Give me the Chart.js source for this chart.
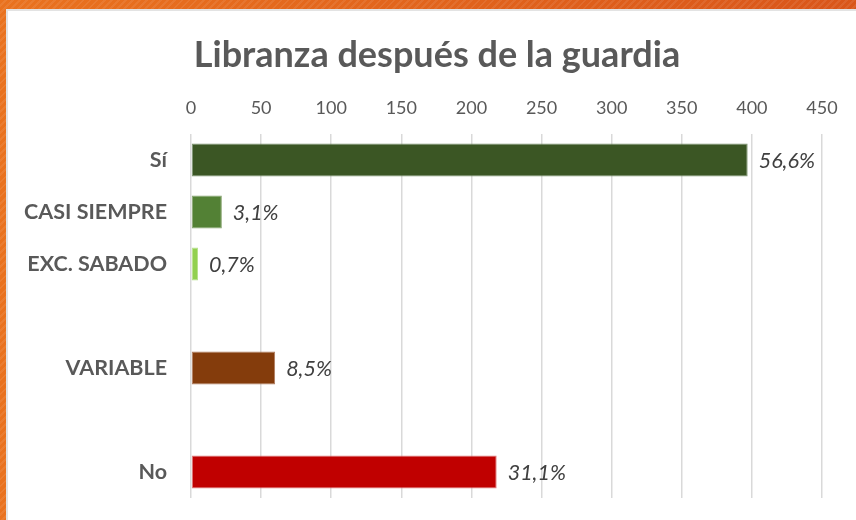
<!DOCTYPE html>
<html>
<head>
<meta charset="utf-8">
<script src="https://cdn.jsdelivr.net/npm/chart.js@4"></script>
<style>
  html, body { margin: 0; padding: 0; }
  body {
    width: 856px; height: 520px; overflow: hidden; position: relative;
    background:
      repeating-linear-gradient(135deg, rgba(255,255,255,0) 0px, rgba(255,255,255,0) 3px, rgba(255,255,255,0.08) 3px, rgba(255,255,255,0.08) 5px),
      linear-gradient(to right, #e9721f, #d9561a);
  }
  #panel {
    position: absolute; left: 8px; top: 11px; width: 860px; height: 520px;
    background: #ffffff; box-shadow: 0 0 0 2px #e3e3e3;
  }
  #wrap { position: absolute; left: 0; top: 0; width: 848px; height: 509px; }
</style>
</head>
<body>
<div id="panel"><div id="wrap"><canvas id="c" width="848" height="509"></canvas></div></div>
<script>
const chartTitle = 'Libranza después de la guardia';
const categories = ["Sí", "CASI SIEMPRE", "EXC. SABADO", "", "VARIABLE", "", "No"];
const counts = [397, 22, 5, null, 60, null, 218];
const percentLabels = ["56,6%", "3,1%", "0,7%", "", "8,5%", "", "31,1%"];
const barColors = ["#3b5624", "#538135", "#92d050", "#ffffff", "#843c0c", "#ffffff", "#c00000"];
const barBorders = ["#7d9470", "#86a36f", "#b8e28d", "#ffffff", "#b07c5f", "#ffffff", "#e07b7b"];
const tickValues = [0, 50, 100, 150, 200, 250, 300, 350, 400, 450];

const titlePlugin = {
  id: 'customTitle',
  afterDraw(chart) {
    const ctx = chart.ctx;
    ctx.save();
    ctx.font = 'bold 36px Lato';
    ctx.fillStyle = '#595959';
    ctx.textAlign = 'center';
    ctx.textBaseline = 'middle';
    ctx.fillText(chartTitle, 429, 44);
    ctx.restore();
  }
};

const dataLabelPlugin = {
  id: 'dataLabels',
  afterDatasetsDraw(chart) {
    const ctx = chart.ctx;
    const meta = chart.getDatasetMeta(0);
    ctx.save();
    ctx.font = 'italic 21.5px Lato';
    ctx.fillStyle = '#404040';
    ctx.textAlign = 'left';
    ctx.textBaseline = 'middle';
    meta.data.forEach((bar, i) => {
      if (counts[i] == null) return;
      ctx.fillText(percentLabels[i], bar.x + 11, bar.y + 1);
    });
    ctx.restore();
  }
};

new Chart(document.getElementById('c'), {
  type: 'bar',
  data: {
    labels: categories,
    datasets: [{
      data: counts,
      backgroundColor: barColors,
      borderColor: barBorders,
      borderWidth: 1,
      borderSkipped: false,
      categoryPercentage: 1,
      barPercentage: 0.63
    }]
  },
  options: {
    indexAxis: 'y',
    responsive: false,
    animation: false,
    layout: { padding: { top: 65, left: 0, right: 34, bottom: 22 } },
    plugins: {
      legend: { display: false },
      tooltip: { enabled: false },
      title: { display: false }
    },
    scales: {
      x: {
        position: 'top',
        min: 0, max: 450,
        afterBuildTicks(scale) { scale.ticks = tickValues.map(v => ({ value: v })); },
        afterFit(scale) { scale.height = 58; },
        grid: { color: '#d9d9d9', lineWidth: 1.5, drawTicks: false },
        border: { display: false },
        ticks: { color: '#595959', font: { family: 'Lato', size: 18 }, padding: 15 }
      },
      y: {
        afterFit(scale) { scale.width = 183; scale.paddingTop = 0; scale.paddingBottom = 0; },
        grid: { display: false, drawTicks: false },
        border: { display: false },
        ticks: { color: '#595959', font: { family: 'Lato', size: 21.5, weight: 'bold' }, padding: 24 }
      }
    }
  },
  plugins: [dataLabelPlugin, titlePlugin]
});
</script>
</body>
</html>
